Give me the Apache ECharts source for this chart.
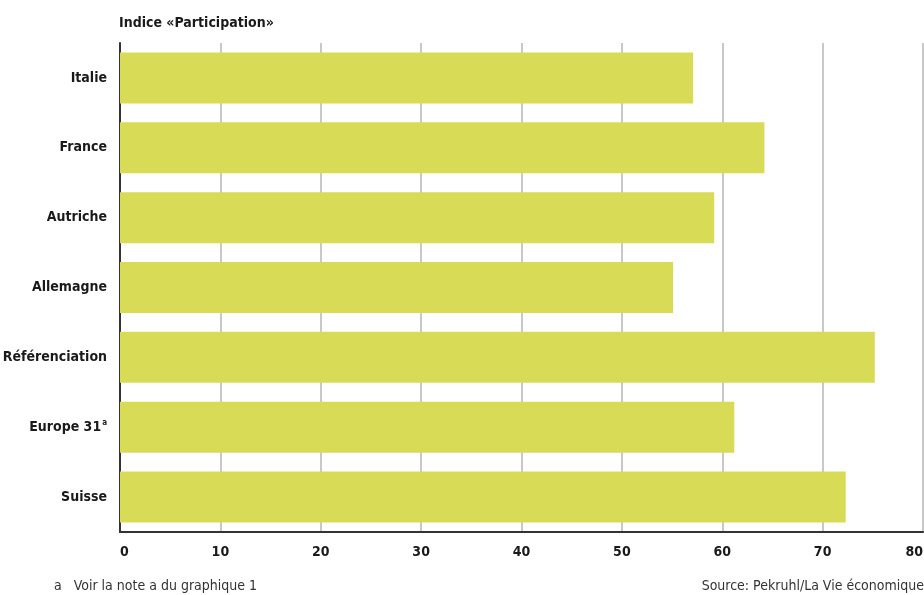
<!DOCTYPE html>
<html><head><meta charset="utf-8">
<script src="https://cdn.jsdelivr.net/npm/echarts@6/dist/echarts.min.js"></script>
<style>html,body{margin:0;padding:0;background:#fff}#c{width:924px;height:595px}</style>
</head><body><div id="c"></div>
<script>
const categories = ['Italie', 'France', 'Autriche', 'Allemagne', 'Référenciation', 'Europe 31', 'Suisse'];
const values = [57.1, 64.2, 59.2, 55.1, 75.2, 61.2, 72.3];
const xTicks = [0, 10, 20, 30, 40, 50, 60, 70, 80];
const FONT = '"Liberation Sans Narrow", "DejaVu Sans Condensed", "Roboto Condensed", sans-serif';

const chart = echarts.init(document.getElementById('c'), null, {renderer: 'canvas'});
chart.setOption({
  animation: false,
  textStyle: {fontFamily: FONT},
  graphic: [
    {type: 'text', left: 119, top: 16, style: {text: 'Indice «Participation»', font: 'bold 14px ' + FONT, fill: '#1a1a1a'}},
    {type: 'text', left: 54, top: 579, style: {text: 'a   Voir la note a du graphique 1', font: '14px ' + FONT, fill: '#333'}},
    {type: 'text', right: 0, top: 579, style: {text: 'Source: Pekruhl/La Vie économique', font: '14px ' + FONT, fill: '#333', align: 'right'}}
  ],
  grid: {left: 120, right: 1, top: 43, bottom: 63, containLabel: false, outerBoundsMode: 'none'},
  xAxis: {
    type: 'value', min: xTicks[0], max: xTicks[xTicks.length - 1], interval: 10,
    axisLine: {show: true, lineStyle: {color: '#333', width: 2}},
    axisTick: {show: false},
    splitLine: {show: true, lineStyle: {color: '#c8c8c8', width: 2}},
    axisLabel: {color: '#1a1a1a', fontWeight: 'bold', fontSize: 14, fontFamily: FONT, margin: 13,
      showMaxLabel: true, hideOverlap: false, alignMinLabel: 'left', alignMaxLabel: 'right'}
  },
  yAxis: {
    type: 'category', data: categories, inverse: true,
    axisLine: {show: true, onZero: false, lineStyle: {color: '#333', width: 2}},
    axisTick: {show: false},
    axisLabel: {
      color: '#1a1a1a', fontWeight: 'bold', fontSize: 14, fontFamily: FONT, margin: 13,
      formatter: function (v) { return v === 'Europe 31' ? v + '{sup|a}' : v; },
      rich: {sup: {fontSize: 8, fontWeight: 'bold', verticalAlign: 'top', padding: [0, 0, 8, 1], fontFamily: FONT, color: '#1a1a1a'}}
    }
  },
  series: [{
    type: 'bar', data: values, barCategoryGap: '27%',
    itemStyle: {color: '#d8db55'}
  }]
});
</script></body></html>
